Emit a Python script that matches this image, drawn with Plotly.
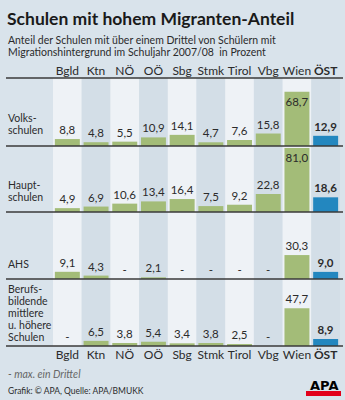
import plotly.graph_objects as go
from plotly.subplots import make_subplots

# ---------------- data ----------------
categories = ["Bgld", "Ktn", "NÖ", "OÖ", "Sbg", "Stmk", "Tirol", "Vbg", "Wien", "ÖST"]
tick_labels = ["Bgld", "Ktn", "NÖ", "OÖ", "Sbg", "Stmk", "Tirol", "Vbg", "Wien", "<b>ÖST</b>"]

volksschulen = [8.8, 4.8, 5.5, 10.9, 14.1, 4.7, 7.6, 15.8, 68.7, 12.9]
hauptschulen = [4.9, 6.9, 10.6, 13.4, 16.4, 7.5, 9.2, 22.8, 81.0, 18.6]
ahs = [9.1, 4.3, None, 2.1, None, None, None, None, 30.3, 9.0]
bms_bhs = [None, 6.5, 3.8, 5.4, 3.4, 3.8, 2.5, None, 47.7, 8.9]

row_names = [["Volks-", "schulen"], ["Haupt-", "schulen"], ["AHS"],
             ["Berufs-", "bildende", "mittlere", "u. höhere", "Schulen"]]
series = [volksschulen, hauptschulen, ahs, bms_bhs]

title = "Schulen mit hohem Migranten-Anteil"
subtitle = ["Anteil der Schulen mit über einem Drittel von Schülern mit",
            "Migrationshintergrund im Schuljahr 2007/08  in Prozent"]
note = "- max. ein Drittel"
source = "Grafik: © APA, Quelle: APA/BMUKK"

# ---------------- style ----------------
W, H = 345, 400
FONT = "Lato"
BG = "#d9e3eb"
STRIPE_LIGHT = "#eef2f6"
STRIPE_DARK = "#d3dee7"
GREEN = "#a3bc78"
BLUE = "#2387bf"
TXT = "#2b2b2b"
PX_PER_UNIT = 0.79

# pixel geometry (top of band, baseline) for each row
bands = [(78, 146), (146, 212), (212, 279), (279, 346)]
X0_PX, X1_PX = 53, 340


def py(p):
    return 1 - p / H


def pxx(p):
    return p / W


fig = make_subplots(rows=4, cols=1, shared_xaxes=True, vertical_spacing=0)

for r, vals in enumerate(series, start=1):
    yv = [v if v is not None else 0 for v in vals]
    texts = []
    for c, v in zip(categories, vals):
        if v is None:
            t = "-"
        else:
            t = f"{v:.1f}".replace(".", ",")
        if c == "ÖST":
            t = f"<b>{t}</b>"
        texts.append(t)
    pos = ["inside" if (v is not None and v > 60) else "outside" for v in vals]
    colors = [BLUE if c == "ÖST" else GREEN for c in categories]
    fig.add_trace(go.Bar(
        x=categories, y=yv, text=texts, textposition=pos, textangle=0,
        marker=dict(color=colors, line=dict(width=0)),
        textfont=dict(family=FONT, size=11.5, color=TXT),
        insidetextfont=dict(family=FONT, size=11.5, color=TXT),
        outsidetextfont=dict(family=FONT, size=11.5, color=TXT),
        insidetextanchor="end",
        constraintext="none", cliponaxis=False,
        hoverinfo="skip", showlegend=False,
    ), row=r, col=1)

layout_axes = {}
for i, (top, base) in enumerate(bands, start=1):
    sfx = "" if i == 1 else str(i)
    layout_axes[f"yaxis{sfx}"] = dict(
        domain=[py(base), py(top)], range=[0, (base - top) / PX_PER_UNIT],
        showgrid=False, zeroline=False, showticklabels=False, fixedrange=True)
    layout_axes[f"xaxis{sfx}"] = dict(
        domain=[pxx(X0_PX), pxx(X1_PX)], showgrid=False, zeroline=False,
        showline=False, ticks="", type="category",
        categoryorder="array", categoryarray=categories,
        tickvals=categories, ticktext=tick_labels,
        tickfont=dict(family=FONT, size=12, color=TXT),
        showticklabels=(i in (1, 4)), side="top" if i == 1 else "bottom")
fig.update_layout(**layout_axes)

shapes = []
# column stripes
for i, c in enumerate(categories):
    shapes.append(dict(type="rect", xref="x", yref="paper",
                       x0=i - 0.5, x1=i + 0.5, y0=py(bands[-1][1]), y1=py(bands[0][0]),
                       fillcolor=STRIPE_LIGHT if i % 2 == 0 else STRIPE_DARK,
                       line=dict(width=0), layer="below"))
# horizontal rules
for yline in [bands[0][0]] + [b for _, b in bands]:
    shapes.append(dict(type="line", xref="paper", yref="paper",
                       x0=pxx(6), x1=pxx(343), y0=py(yline), y1=py(yline),
                       line=dict(color="#3a3a3a", width=1.3), layer="above"))
# APA logo bar
shapes.append(dict(type="rect", xref="paper", yref="paper",
                   x0=pxx(306), x1=pxx(341), y0=py(396), y1=py(391),
                   fillcolor="#e2001a", line=dict(width=0)))

annotations = []


def ann(text, x, y, size, color=TXT, xanchor="left", family=FONT):
    annotations.append(dict(text=text, x=pxx(x), y=py(y), xref="paper", yref="paper",
                            xanchor=xanchor, yanchor="middle", showarrow=False,
                            font=dict(family=family, size=size, color=color)))


ann(f"<b>{title}</b>", 5, 19, 17.5, color="#1a1a1a")
ann(subtitle[0], 6, 40, 10.5)
ann(subtitle[1], 6, 52, 10.5)

row_label_y = [[118, 130], [185, 197], [264], [289, 301, 313, 325, 337]]
for lines, ys in zip(row_names, row_label_y):
    for t, yy in zip(lines, ys):
        ann(t, 6, yy, 10.5)

ann(f"<i>{note}</i>", 6, 374, 10.5, color="#666666")
ann(source, 6, 391, 8.5)
ann("<b>APA</b>", 323.5, 385, 13, color="#000000", xanchor="center", family="DejaVu Sans")

fig.update_layout(
    width=W, height=H, autosize=False,
    margin=dict(l=0, r=0, t=0, b=0),
    paper_bgcolor=BG, plot_bgcolor="rgba(0,0,0,0)",
    bargap=0.13,
    shapes=shapes, annotations=annotations,
    uniformtext=dict(minsize=11, mode="show"),
    font=dict(family=FONT, color=TXT),
)

fig.write_html("out.html", config={"displayModeBar": False, "staticPlot": True})
